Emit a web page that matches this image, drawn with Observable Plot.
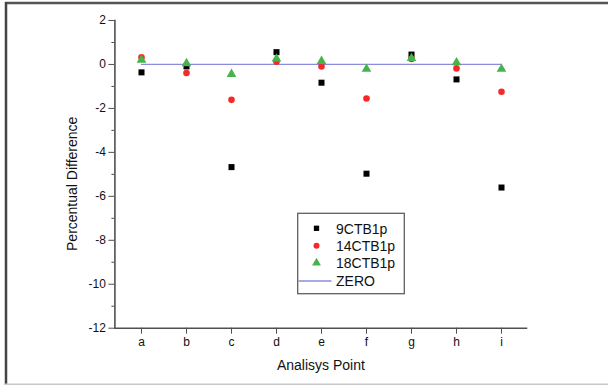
<!DOCTYPE html>
<html>
<head>
<meta charset="utf-8">
<script src="https://cdn.jsdelivr.net/npm/d3@7"></script>
<script src="https://cdn.jsdelivr.net/npm/@observablehq/plot@0.6"></script>
<style>
  html, body { margin: 0; padding: 0; background: #fff; }
  #chart { width: 608px; height: 385px; }
</style>
</head>
<body>
<div id="chart"></div>
<script>
const categories = ["a", "b", "c", "d", "e", "f", "g", "h", "i"];
const s9CTB1p  = [-0.36, -0.09, -4.67, 0.56, -0.83, -4.97, 0.45, -0.68, -5.60];
const s14CTB1p = [0.32, -0.39, -1.61, 0.12, -0.09, -1.55, 0.25, -0.18, -1.24];
const s18CTB1p = [0.21, 0.05, -0.44, 0.26, 0.15, -0.21, 0.28, 0.09, -0.21];
const zeroLine = [0, 0, 0, 0, 0, 0, 0, 0, 0];
const yMajorTicks = [-12, -10, -8, -6, -4, -2, 0, 2];
const yMinorTicks = [-11, -9, -7, -5, -3, -1, 1];
const seriesNames = ["9CTB1p", "14CTB1p", "18CTB1p", "ZERO"];
const xTitle = "Analisys Point";
const yTitle = "Percentual Difference";

const colors = { s9: "#000000", s14: "#f42a2a", s18: "#46b44a", zero: "#8c8cdc" };
const axisColor = "#505050";
const font = "Arial, 'Liberation Sans', sans-serif";

const plot = Plot.plot({
  width: 608,
  height: 385,
  marginLeft: 114.4,
  marginRight: 80.7,
  marginTop: 20,
  marginBottom: 57.3,
  x: { type: "point", domain: categories, padding: 0.5, axis: null },
  y: { domain: [-12, 2], axis: null },
  style: { fontFamily: font, background: "white", overflow: "visible" },
  marks: [
    Plot.axisY(yMinorTicks, { tickSize: 3, tickFormat: () => "", stroke: axisColor, label: null }),
    Plot.axisY(yMajorTicks, { tickSize: 6, tickPadding: 3, tickFormat: d => String(d), fontSize: 12, stroke: axisColor, fill: "#111", label: null }),
    Plot.axisX({ tickSize: 6, tickPadding: 3, fontSize: 12, stroke: axisColor, fill: "#111", label: null }),
    Plot.ruleY([-12], { stroke: axisColor, strokeWidth: 1.6 }),
    Plot.frame({ anchor: "left", stroke: axisColor, strokeWidth: 1.6 }),
    Plot.line(categories, { x: d => d, y: (d, i) => zeroLine[i], stroke: colors.zero, strokeWidth: 1.3 }),
    Plot.dot(categories, { x: d => d, y: (d, i) => s9CTB1p[i], symbol: "square", r: 3.4, fill: colors.s9 }),
    Plot.dot(categories, { x: d => d, y: (d, i) => s14CTB1p[i], symbol: "circle", r: 3.3, fill: colors.s14 }),
    Plot.dot(categories, { x: d => d, y: (d, i) => s18CTB1p[i], symbol: "triangle", r: 3.6, fill: colors.s18 })
  ]
});

document.getElementById("chart").appendChild(plot);

const svg = d3.select(plot);
// outer frame
svg.append("line").attr("x1", 5).attr("x2", 608).attr("y1", 3).attr("y2", 3)
  .attr("stroke", "#555").attr("stroke-width", 2.5);
svg.append("line").attr("x1", 6).attr("x2", 6).attr("y1", 2).attr("y2", 385)
  .attr("stroke", "#444").attr("stroke-width", 2.5);
svg.append("line").attr("x1", 5).attr("x2", 608).attr("y1", 384.3).attr("y2", 384.3)
  .attr("stroke", "#c8c8c8").attr("stroke-width", 1.5);

// axis titles
svg.append("text").text(xTitle)
  .attr("x", 320.9).attr("y", 369.5).attr("text-anchor", "middle")
  .attr("font-family", font).attr("font-size", 14).attr("fill", "#111");
svg.append("text").text(yTitle)
  .attr("transform", "translate(77,183.8) rotate(-90)").attr("text-anchor", "middle")
  .attr("font-family", font).attr("font-size", 14).attr("fill", "#111");

// legend
const lg = svg.append("g").attr("text-anchor", "start");
lg.append("rect").attr("x", 297.7).attr("y", 213.3).attr("width", 106.6).attr("height", 80.4)
  .attr("fill", "white").attr("stroke", "#606060").attr("stroke-width", 1.3);
const rowY = [228.3, 245.7, 263, 281];
const syms = [
  { type: d3.symbolSquare, r: 3.0, fill: colors.s9 },
  { type: d3.symbolCircle, r: 3.0, fill: colors.s14 },
  { type: d3.symbolTriangle, r: 3.3, fill: colors.s18 }
];
syms.forEach((s, i) => {
  lg.append("path")
    .attr("d", d3.symbol(s.type, Math.PI * s.r * s.r)())
    .attr("transform", `translate(316.5,${rowY[i]})`)
    .attr("fill", s.fill);
});
lg.append("line").attr("x1", 298.5).attr("x2", 331.5).attr("y1", rowY[3]).attr("y2", rowY[3])
  .attr("stroke", colors.zero).attr("stroke-width", 1.3);
seriesNames.forEach((n, i) => {
  lg.append("text").text(n).attr("x", 336).attr("y", rowY[i] + 5.2)
    .attr("text-anchor", "start")
    .attr("font-family", font).attr("font-size", 14).attr("fill", "#111");
});
</script>
</body>
</html>
